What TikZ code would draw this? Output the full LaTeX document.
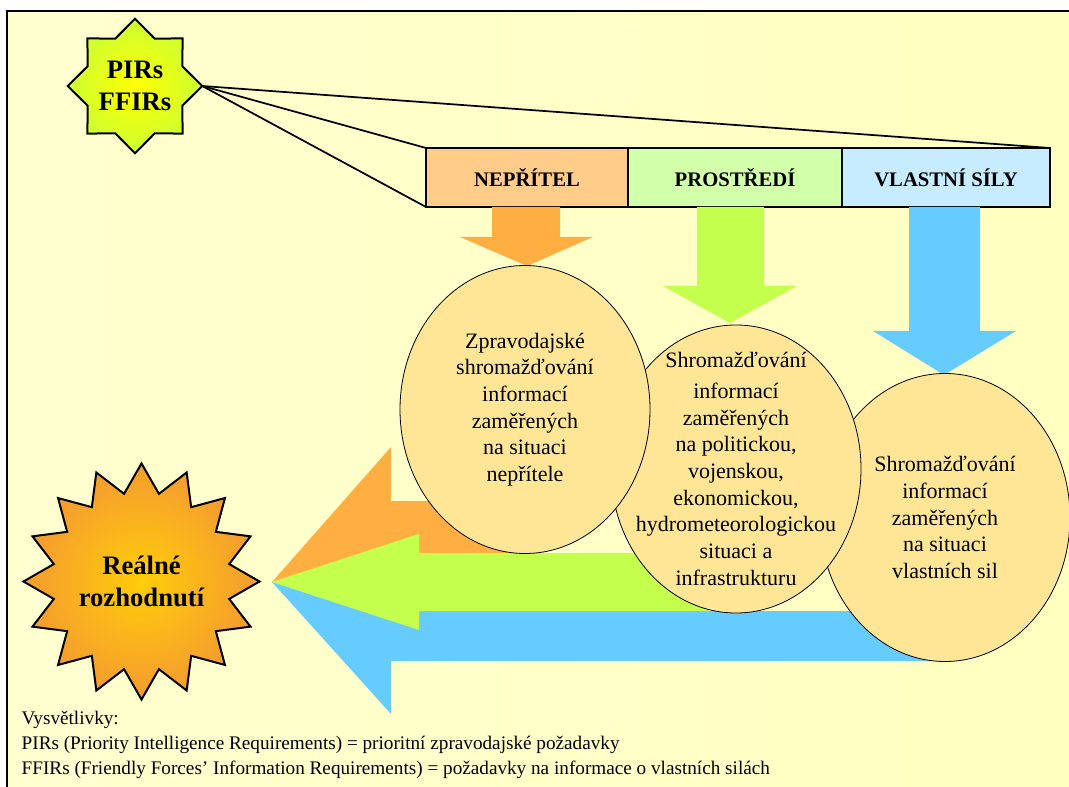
\documentclass[tikz,border=0pt]{standalone}
\usepackage{fontspec}
\setmainfont{Liberation Serif}
\usetikzlibrary{shapes.geometric,positioning}

\definecolor{bgleft}{RGB}{255,255,208}
\definecolor{bgright}{RGB}{255,255,192}
\definecolor{enemyfill}{RGB}{255,204,138}
\definecolor{envfill}{RGB}{210,255,170}
\definecolor{ownfill}{RGB}{200,236,255}
\definecolor{enemyarr}{RGB}{255,175,65}
\definecolor{envarr}{RGB}{196,255,77}
\definecolor{ownarr}{RGB}{102,204,255}
\definecolor{ellfill}{RGB}{255,230,150}
\definecolor{pirin}{RGB}{255,255,0}
\definecolor{pirout}{RGB}{204,255,51}
\definecolor{decin}{RGB}{255,205,10}
\definecolor{decout}{RGB}{244,155,48}

\begin{document}
\begin{tikzpicture}[x=0.75pt,y=-0.75pt,
    hdrbox/.style={rectangle, draw, line width=1.5pt, outer sep=0pt, inner sep=0pt,
                   minimum height=44.25pt, font=\fontsize{15.5}{18}\selectfont\bfseries},
    infoell/.style={ellipse, draw, line width=0.6pt, fill=ellfill, inner sep=0pt,
                    minimum width=187.5pt, minimum height=216pt},
    infotext/.style={align=center, font=\fontsize{16.5}{20}\selectfont},
    startext/.style={align=center, font=\fontsize{20}{24}\selectfont\bfseries},
    fan/.style={line width=1.3pt},
  ]

  % Background and frame
  \useasboundingbox (0,0) rectangle (1069,787);
  \shade[left color=bgleft, right color=bgright] (7,11) rectangle (1069,787);
  \draw[line width=1.5pt] (7,787) -- (7,11) -- (1069,11);

  % PIRs / FFIRs star
  \node[star, star points=8, star point ratio=1.31, minimum size=97.5pt,
        inner sep=0pt, outer sep=0pt, draw, line width=1.5pt,
        shading=radial, inner color=pirin, outer color=pirout,
        startext] (pirs) at (135,86) {PIRs\\FFIRs};

  % Header boxes
  \node[hdrbox, fill=enemyfill, minimum width=151.5pt] (enemy) at (527,177.5) {NEPŘÍTEL};
  \node[hdrbox, fill=envfill, minimum width=160.5pt, right=0pt of enemy] (env) {PROSTŘEDÍ};
  \node[hdrbox, fill=ownfill, minimum width=156pt, right=0pt of env] (own) {VLASTNÍ SÍLY};

  % Fan lines from the star
  \draw[fan] (pirs.east) -- (own.north east);
  \draw[fan] (pirs.east) -- (enemy.north west);
  \draw[fan] (pirs.east) -- (enemy.south west);

  % Down arrows
  \fill[enemyarr] (492,207) -- (560,207) -- (560,237) -- (593,237) -- (527,266)
    -- (460,237) -- (492,237) -- cycle;
  \fill[envarr] (697,207) -- (764,207) -- (764,286) -- (797,286) -- (730,323)
    -- (663,286) -- (697,286) -- cycle;
  \fill[ownarr] (909,207) -- (980,207) -- (980,331) -- (1016,331) -- (944,375)
    -- (873,331) -- (909,331) -- cycle;

  % Arrows into the decision
  \coordinate (tip) at (272,582);
  \fill[enemyarr] (tip) -- (391,447) -- (391,501) -- (525,501) -- (525,553)
    -- (419,553) -- cycle;
  \fill[ownarr] (tip) -- (391,714) -- (391,661) -- (945,661) -- (945,611)
    -- (419,611) -- cycle;
  \fill[envarr] (tip) -- (419,534) -- (419,553) -- (736,553) -- (736,611)
    -- (419,611) -- (419,630) -- cycle;

  % Ellipses
  \node[infoell] (ownell) at (945,517.5) {};
  \node[infoell] (envell) at (736,469) {};
  \node[infoell] (enemyell) at (525,409.5) {};

  \node[infotext] (enemytxt) at (enemyell.center)
    {Zpravodajské\\shromažďování\\informací\\zaměřených\\na situaci\\nepřítele};
  \node[infotext] (envtxt) at (envell.center)
    {Shromažďování\\[3pt]informací\\zaměřených\\na politickou,\\vojenskou,\\ekonomickou,\\hydrometeorologickou\\situaci a\\infrastrukturu};
  \node[infotext] (owntxt) at (ownell.center)
    {Shromažďování\\informací\\zaměřených\\na situaci\\vlastních sil};

  % Decision star
  \node[star, star points=16, star point ratio=1.32, minimum size=177pt,
        inner sep=0pt, outer sep=0pt, draw, line width=1.5pt,
        shading=radial, inner color=decin, outer color=decout,
        startext] (decision) at (141.5,581.5) {Reálné\\rozhodnutí};

  % Legend
  \node[anchor=west, align=left, font=\fontsize{14.4}{18.6}\selectfont] (legend) at (17,745)
    {Vysvětlivky:\\
     PIRs (Priority Intelligence Requirements) = prioritní zpravodajské požadavky\\
     FFIRs (Friendly Forces’ Information Requirements) = požadavky na informace o vlastních silách};

\end{tikzpicture}
\end{document}
